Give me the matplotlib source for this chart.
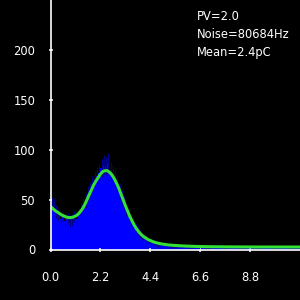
import numpy as np
import matplotlib
matplotlib.use("Agg")
import matplotlib.pyplot as plt

# Histogram (bin width 0.1, from 0 to 11)
bin_edges_start = 0.0
bin_width = 0.1
counts = [46, 44, 38, 35, 31, 33, 29, 31, 28, 30,
          33, 31, 36, 40, 45, 50, 56, 60, 66, 70,
          74, 77, 82, 85, 84, 87, 79, 76, 71, 66,
          58, 52, 47, 40, 35, 29, 27, 22, 19, 16,
          13, 12, 10, 8, 7, 7, 6, 5, 5, 4,
          5, 4, 4, 3, 4, 3, 3, 3, 2, 3,
          3, 2, 3, 2, 3, 2, 2, 3, 2, 2,
          2, 3, 2, 2, 2, 3, 2, 2, 2, 3,
          2, 2, 3, 2, 2, 2, 2, 3, 2, 2,
          2, 2, 2, 3, 2, 2, 2, 2, 2, 2,
          2, 2, 2, 2, 3, 2, 2, 2, 2, 2]

# Fit curve
fit_x = [0.0, 0.1, 0.2, 0.3, 0.4, 0.5, 0.6, 0.7, 0.8, 0.9,
         1.0, 1.1, 1.2, 1.3, 1.4, 1.5, 1.6, 1.7, 1.8, 1.9,
         2.0, 2.1, 2.2, 2.3, 2.4, 2.5, 2.6, 2.7, 2.8, 2.9,
         3.0, 3.1, 3.2, 3.3, 3.4, 3.5, 3.6, 3.7, 3.8, 3.9,
         4.0, 4.1, 4.2, 4.3, 4.4, 4.5, 4.6, 4.7, 4.8, 4.9,
         5.0, 5.2, 5.4, 5.6, 5.8, 6.0, 6.5, 7.0, 8.0, 9.0, 10.0, 11.0]
fit_y = [43, 41, 39, 37.5, 36, 34.5, 33.5, 32.5, 32, 32,
         32.5, 33.5, 35, 37.5, 40.5, 44.5, 49.5, 54.5, 59.5, 64.5,
         68.5, 72, 75.5, 78, 79, 79, 77.5, 75, 71.5, 67,
         62, 56, 50, 44, 38.5, 33, 28.5, 24, 20.5, 17.5,
         15, 13, 11.5, 10, 9, 8, 7.2, 6.6, 6, 5.6,
         5.2, 4.6, 4.2, 3.9, 3.6, 3.4, 3.0, 2.8, 2.6, 2.5, 2.5, 2.5]

xticks = [0.0, 2.2, 4.4, 6.6, 8.8]
xtick_labels = ["0.0", "2.2", "4.4", "6.6", "8.8"]
yticks = [0, 50, 100, 150, 200]
info_lines = ["PV=2.0", "Noise=80684Hz", "Mean=2.4pC"]

fig = plt.figure(figsize=(3, 3), dpi=100, facecolor="black")
ax = fig.add_axes([50.5 / 300, 50.5 / 300, 249.5 / 300, 249.5 / 300], facecolor="black")

counts_arr = np.array(counts, dtype=float)
lefts = bin_edges_start + bin_width * np.arange(len(counts_arr))
centers = lefts + bin_width / 2
ax.bar(lefts, counts_arr, width=bin_width, align="edge", color="#0000ff",
       edgecolor="none", linewidth=0, zorder=1)
err = np.sqrt(counts_arr)
ax.vlines(centers, counts_arr - err, counts_arr + err, color="#00008c",
          linewidth=0.8, zorder=2)
ax.plot(fit_x, fit_y, color="#33e033", linewidth=2.2, zorder=3,
        solid_capstyle="butt")

ax.set_xlim(0, 11)
ax.set_ylim(0, 250)
ax.set_xticks(xticks)
ax.set_xticklabels(xtick_labels)
ax.set_yticks(yticks)

for s in ["top", "right"]:
    ax.spines[s].set_visible(False)
for s in ["left", "bottom"]:
    ax.spines[s].set_color("white")
    ax.spines[s].set_linewidth(1.2)
    ax.spines[s].set_zorder(5)

ax.tick_params(axis="both", colors="white", direction="inout", length=3,
               width=1.1, labelsize=8.3, labelcolor="white")
ax.tick_params(axis="x", pad=14)
ax.tick_params(axis="y", pad=9.5)

ys = [19.5, 37.5, 55.5]
for txt, yp in zip(info_lines, ys):
    fig.text(197 / 300, 1 - yp / 300, txt, color="white", fontsize=8.3,
             ha="left", va="baseline")

fig.savefig("out.png", dpi=100, facecolor="black")
